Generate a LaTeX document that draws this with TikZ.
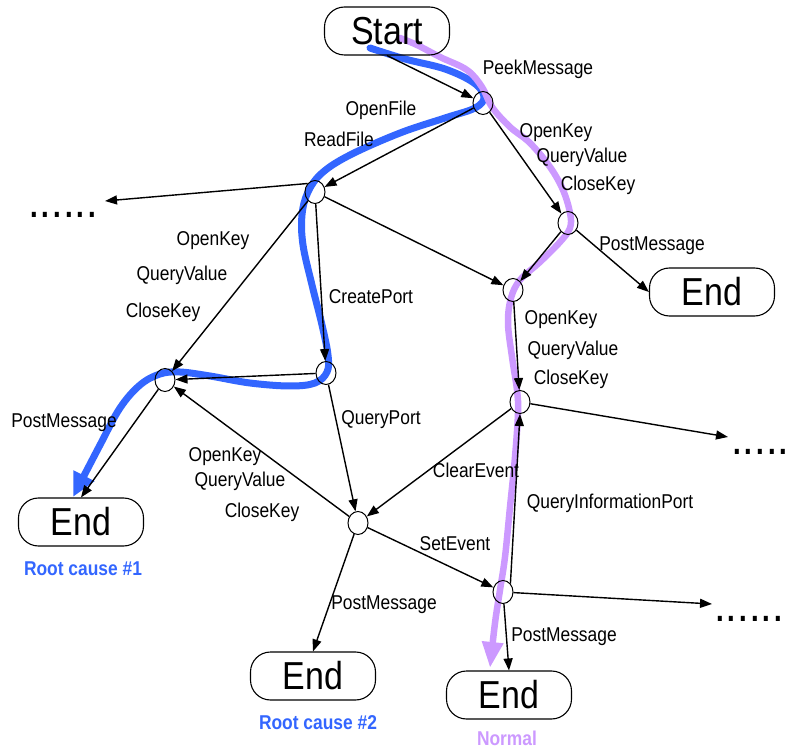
\documentclass[tikz,border=0pt]{standalone}
\usepackage{fontspec}
\setmainfont{Liberation Sans}[FakeStretch=0.87]
\usetikzlibrary{arrows.meta, shapes.geometric, backgrounds}
\definecolor{causeblue}{HTML}{3366FF}
\definecolor{normalpurple}{HTML}{CC99FF}

\tikzset{
  junction/.style={draw, ellipse, minimum width=20pt, minimum height=23pt, inner sep=0pt, line width=1pt},
  terminal/.style={draw, rounded corners=20pt, minimum width=125pt, minimum height=48pt,
    inner sep=0pt, line width=1.1pt, font=\fontsize{39}{40}\selectfont},
  lbl/.style={inner sep=0pt, font=\fontsize{20}{22}\selectfont},
  ellip/.style={inner sep=0pt, anchor=base west, font=\fontsize{48}{48}\selectfont},
  cause/.style={inner sep=0pt, font=\bfseries\fontsize{20}{22}\selectfont},
  bluepath/.style={draw=causeblue, line width=7pt, line cap=round,
    -{Triangle[length=24pt,width=22pt]}},
  purplepath/.style={draw=normalpurple, line width=6.5pt, line cap=round,
    -{Triangle[length=26pt,width=20pt]}},
  flow/.style={line width=1.4pt, ->}
}

\begin{document}
\begin{tikzpicture}[x=1pt, y=1pt, >={Triangle[length=12pt,width=9pt]}]
\useasboundingbox (0,0) rectangle (793,-751);

% terminals
\node[terminal] (start) at (387,-31) {Start};
\node[terminal] (endA) at (712,-292) {End};
\node[terminal] (endB) at (81,-522) {End};
\node[terminal] (endC) at (313,-676) {End};
\node[terminal] (endD) at (509,-695) {End};

% call points
\node[junction] (n1) at (483,-103) {};
\node[junction] (n2) at (315,-192) {};
\node[junction] (n3) at (568,-223) {};
\node[junction] (n4) at (513,-290) {};
\node[junction] (n5) at (326,-373) {};
\node[junction] (n6) at (165,-380) {};
\node[junction] (n7) at (520,-402) {};
\node[junction] (n8) at (358,-523) {};
\node[junction] (n9) at (503,-592) {};

% further calls
\node[ellip] (moreL) at (28,-218) {......};
\node[ellip] (moreM) at (731,-454) {.....};
\node[ellip] (moreB) at (714,-621) {......};
\coordinate (tipL) at (105,-201);
\coordinate (tipM) at (728,-437);
\coordinate (tipB) at (712,-604);

% traces
\begin{pgfonlayer}{background}
\draw[bluepath] plot[smooth, tension=0.6] coordinates {(370,-48) (405,-59) (445,-69) (474,-83)
  (484,-97) (475,-108) (445,-118) (400,-133) (350,-155) (322,-173) (308,-192) (302,-215)
  (303,-245) (312,-285) (322,-325) (328,-355) (327,-372) (315,-383) (290,-386) (250,-383)
  (210,-376) (180,-372) (160,-374) (140,-385) (120,-408) (100,-445) (73,-497)};
\draw[purplepath] plot[smooth, tension=0.6] coordinates {(400,-38) (417,-45) (440,-57)
  (467,-70) (482,-87) (492,-107) (510,-127) (530,-143) (550,-167) (563,-190) (570,-213)
  (570,-228) (560,-242) (540,-262) (520,-280) (511,-298) (508,-323) (512,-357) (517,-390)
  (518,-413) (515,-457) (510,-507) (505,-557) (500,-590) (495,-623) (490,-668)};
\end{pgfonlayer}

% transitions
\path[flow] (start.south) edge (n1);
\path[flow] (n1) edge (n2);
\path[flow] (n1) edge (n3);
\path[flow] (n2.north west) edge (tipL);
\path[flow] (n2) edge (n6);
\path[flow] (n2) edge (n5);
\path[flow] (n2) edge (n4);
\path[flow] (n3) edge (n4);
\path[flow] (n3) edge (endA.west);
\path[flow] (n5) edge (n6);
\path[flow] (n5) edge (n8);
\path[flow] (n6) edge (endB.north);
\path[flow] (n8) edge (n6);
\path[flow] (n8) edge (endC.north);
\path[flow] (n8) edge (n9);
\path[flow] (n4) edge (n7);
\path[flow] (n7) edge (n8);
\path[flow] (n7) edge (tipM);
\path[flow] (n9.north east) edge (n7.south);
\path[flow] (n9) edge (tipB);
\path[flow] (n9) edge (endD.north);

% call labels
\node[lbl] at (538,-69) {PeekMessage};
\node[lbl] at (381,-110) {OpenFile};
\node[lbl] at (339,-139) {ReadFile};
\node[lbl] at (556,-133) {OpenKey};
\node[lbl] at (582,-157) {QueryValue};
\node[lbl] at (598,-185) {CloseKey};
\node[lbl] at (652,-246) {PostMessage};
\node[lbl] at (213,-241) {OpenKey};
\node[lbl] at (182,-275) {QueryValue};
\node[lbl] at (163,-312) {CloseKey};
\node[lbl] at (371,-297) {CreatePort};
\node[lbl] at (561,-320) {OpenKey};
\node[lbl] at (573,-350) {QueryValue};
\node[lbl] at (571,-379) {CloseKey};
\node[lbl] at (64,-423) {PostMessage};
\node[lbl] at (381,-420) {QueryPort};
\node[lbl] at (225,-457) {OpenKey};
\node[lbl] at (240,-481) {QueryValue};
\node[lbl] at (262,-512) {CloseKey};
\node[lbl] at (476,-470) {ClearEvent};
\node[lbl] at (610,-503) {QueryInformationPort};
\node[lbl] at (455,-544) {SetEvent};
\node[lbl] at (384,-605) {PostMessage};
\node[lbl] at (564,-637) {PostMessage};

% outcomes
\node[cause, text=causeblue] at (83,-569) {Root cause \#1};
\node[cause, text=causeblue] at (318,-723) {Root cause \#2};
\node[cause, text=normalpurple] at (507,-738) {Normal};
\end{tikzpicture}
\end{document}
